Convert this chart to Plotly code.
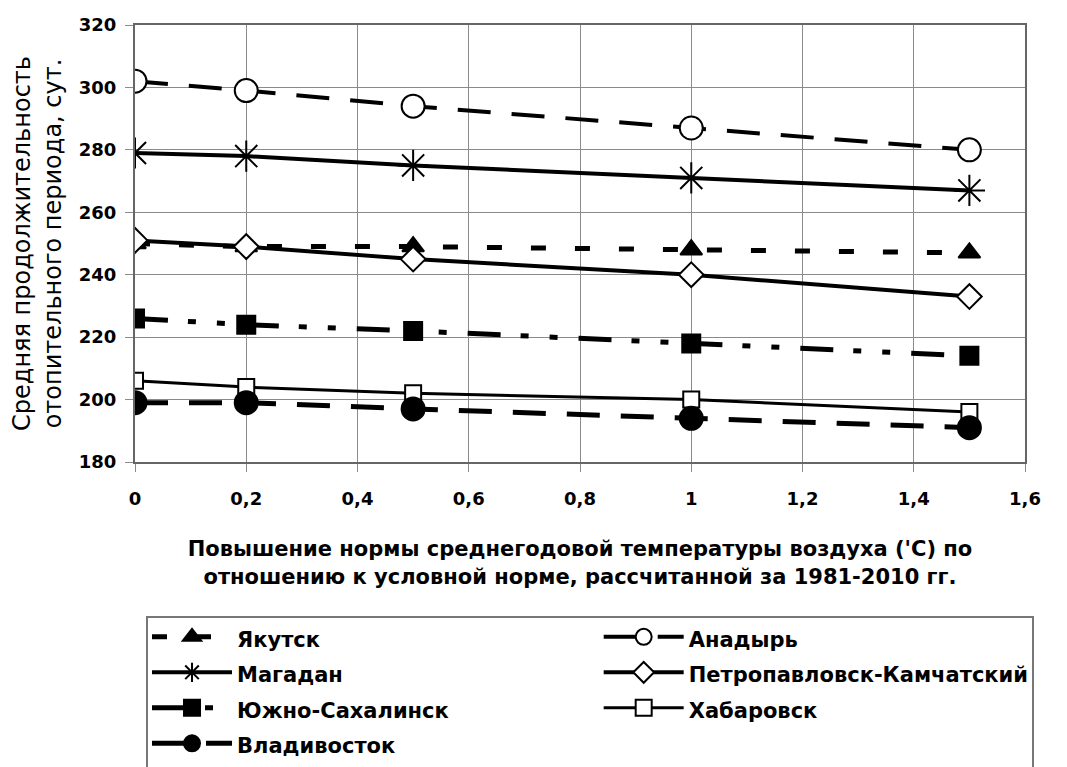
import plotly.graph_objects as go

x_vals = [0, 0.2, 0.5, 1, 1.5]

yakutsk = [250, 249, 249, 248, 247]
anadyr = [302, 299, 294, 287, 280]
magadan = [279, 278, 275, 271, 267]
petropavlovsk = [251, 249, 245, 240, 233]
yuzhno = [226, 224, 222, 218, 214]
khabarovsk = [206, 204, 202, 200, 196]
vladivostok = [199, 199, 197, 194, 191]

names = ["Якутск", "Анадырь", "Магадан", "Петропавловск-Камчатский",
         "Южно-Сахалинск", "Хабаровск", "Владивосток"]

x_ticks = [0, 0.2, 0.4, 0.6, 0.8, 1, 1.2, 1.4, 1.6]
x_tick_text = ["0", "0,2", "0,4", "0,6", "0,8", "1", "1,2", "1,4", "1,6"]
y_ticks = [180, 200, 220, 240, 260, 280, 300, 320]

styles = [
    dict(y=yakutsk, dash="15px,29px", width=5, symbol="triangle-up", size=19, fill="black", lg="legend"),
    dict(y=anadyr, dash="33px,21px", width=4, symbol="circle", size=23, fill="white", lg="legend2"),
    dict(y=magadan, dash="solid", width=4, symbol="asterisk-open", size=26, fill="black", lg="legend"),
    dict(y=petropavlovsk, dash="solid", width=4, symbol="diamond", size=19, fill="white", lg="legend2"),
    dict(y=yuzhno, dash="33px,20px,8px,21px,8px,21px", width=5, symbol="square", size=18, fill="black", lg="legend"),
    dict(y=khabarovsk, dash="solid", width=3, symbol="square", size=16, fill="white", lg="legend2"),
    dict(y=vladivostok, dash="33px,21px", width=5, symbol="circle", size=23, fill="black", lg="legend"),
]

bold_font = "DejaVu Sans, sans-serif"

fig = go.Figure()
for name, s in zip(names, styles):
    fig.add_trace(go.Scatter(
        x=x_vals, y=s["y"], mode="lines+markers", legend=s["lg"],
        name="<span style='font-size:21px'>" + name + "</span>",
        line=dict(color="black", width=s["width"], dash=s["dash"]),
        marker=dict(symbol=s["symbol"], size=s["size"], color=s["fill"],
                    line=dict(color="black", width=2)),
    ))

legend_common = dict(
    orientation="v", yanchor="top", xanchor="left",
    borderwidth=0, bgcolor="rgba(0,0,0,0)",
    font=dict(family=bold_font, size=25, color="black", weight="bold"),
    itemwidth=80, traceorder="normal",
)

fig.update_layout(
    width=1059, height=759,
    paper_bgcolor="white", plot_bgcolor="white",
    margin=dict(l=127, r=42, t=17, b=305, autoexpand=False),
    font=dict(family=bold_font, color="black", size=16),
    showlegend=True,
    legend=dict(x=0.0135, y=-0.348, **legend_common),
    legend2=dict(x=0.521, y=-0.348, **legend_common),
    shapes=[dict(type="rect", xref="paper", yref="paper",
                 x0=0.0135, x1=1.009, y0=-0.80, y1=-0.3547,
                 line=dict(color="#777777", width=2), fillcolor="rgba(0,0,0,0)",
                 layer="below")],
    xaxis=dict(
        range=[0, 1.6], tickvals=x_ticks, ticktext=x_tick_text,
        showgrid=True, gridcolor="#8a8a8a", gridwidth=1,
        showline=True, linecolor="#666666", linewidth=2, mirror=True,
        ticks="outside", ticklen=8, tickcolor="#8a8a8a",
        ticklabelstandoff=11, zeroline=False,
        tickfont=dict(family=bold_font, size=18, weight="bold"),
        title=dict(text="Повышение нормы среднегодовой температуры воздуха ('С) по<br>отношению к условной норме, рассчитанной за 1981-2010 гг.",
                   font=dict(family=bold_font, size=21, weight="bold"), standoff=34),
    ),
    yaxis=dict(
        range=[180, 320], tickvals=y_ticks,
        showgrid=True, gridcolor="#8a8a8a", gridwidth=1,
        showline=True, linecolor="#666666", linewidth=2, mirror=True,
        ticks="outside", ticklen=8, tickcolor="#8a8a8a",
        ticklabelstandoff=5, zeroline=False,
        tickfont=dict(family=bold_font, size=18, weight="bold"),
        title=dict(text="Средняя продолжительность<br>отопительного периода, сут.",
                   font=dict(family=bold_font, size=24), standoff=10),
    ),
)

fig.write_html("out.html")
